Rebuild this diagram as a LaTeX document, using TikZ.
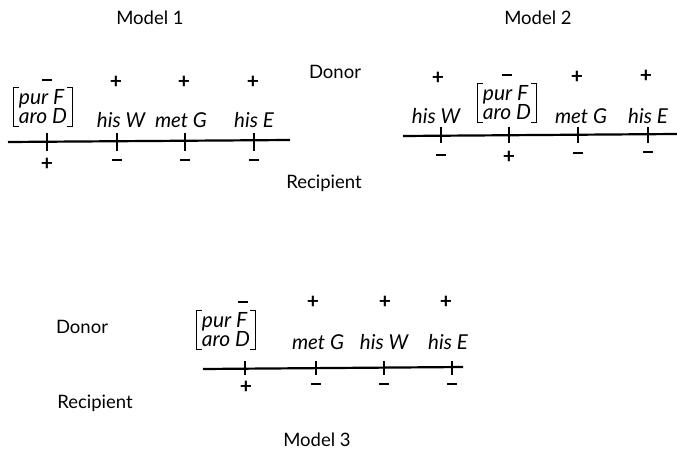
\documentclass[tikz,border=0pt]{standalone}
\usepackage{fontspec}
\setmainfont{Lato}
\newcommand\mn{\rule{10pt}{1.8pt}}
\newcommand\pl{\textbf{+}}
\begin{document}
\begin{tikzpicture}[x=1pt,y=-1pt,
  lbl/.style={font=\fontsize{18.5}{20}\selectfont, inner sep=0pt},
  gene/.style={font=\fontsize{20.5}{20}\selectfont\itshape, inner sep=0pt},
  sgn/.style={font=\fontsize{21}{22}\selectfont, inner sep=0pt},
  brk/.style={font=\fontsize{21}{19}\selectfont\itshape, inner xsep=5pt, inner ysep=2.5pt, align=left},
  bline/.style={line width=1.3pt},
  chrom/.style={line width=2.2pt},
  tick/.style={line width=2pt}]
\useasboundingbox (0,0) rectangle (677,454);
% titles
\node[lbl] (m1) at (150,18) {Model 1};
\node[lbl] (m2) at (538,18) {Model 2};
\node[lbl] (m3) at (317,440) {Model 3};
\node[lbl] (d1) at (335,72) {Donor};
\node[lbl] (r1) at (324,183) {Recipient};
\node[lbl] (d3) at (82,327) {Donor};
\node[lbl] (r3) at (95,403) {Recipient};
% ---- Model 1 ----
\coordinate (a1) at (8,142); \coordinate (b1) at (290,140);
\draw[chrom] (a1) -- (b1);
\node[sgn] (m1t1) at (47,80) {\mn};
\node[sgn] (m1b1) at (47,164) {\pl};
\foreach \x [count=\i from 2] in {116,184,253}{
  \node[sgn] (m1t\i) at (\x,82) {\pl};
}
\foreach \x [count=\i from 2] in {117,185,254}{
  \node[sgn] (m1b\i) at (\x,160) {\mn};
}
\foreach \x in {47,117,185,254}{ \draw[tick] (\x,133) -- (\x,151); }
\node[brk] (k1) at (43,107) {pur F\\aro D};
\draw[bline] ([xshift=5pt]k1.north west) -- (k1.north west) -- (k1.south west) -- ([xshift=5pt]k1.south west);
\draw[bline] ([xshift=-5pt]k1.north east) -- (k1.north east) -- (k1.south east) -- ([xshift=-5pt]k1.south east);
\node[gene] (g11) at (121,120) {his W};
\node[gene] (g12) at (181,120) {met G};
\node[gene] (g13) at (254,120) {his E};
% ---- Model 2 ----
\coordinate (a2) at (403,136); \coordinate (b2) at (677,134);
\draw[chrom] (a2) -- (b2);
\node[sgn] (m2t1) at (438,78) {\pl};
\node[sgn] (m2b1) at (441,155) {\mn};
\node[sgn] (m2t2) at (507,75) {\mn};
\node[sgn] (m2b2) at (509,157) {\pl};
\node[sgn] (m2t3) at (577,77) {\pl};
\node[sgn] (m2b3) at (578,153) {\mn};
\node[sgn] (m2t4) at (646,76) {\pl};
\node[sgn] (m2b4) at (648,152) {\mn};
\foreach \x in {441,509,578,648}{ \draw[tick] (\x,127) -- (\x,143); }
\node[brk] (k2) at (507,103) {pur F\\aro D};
\draw[bline] ([xshift=5pt]k2.north west) -- (k2.north west) -- (k2.south west) -- ([xshift=5pt]k2.south west);
\draw[bline] ([xshift=-5pt]k2.north east) -- (k2.north east) -- (k2.south east) -- ([xshift=-5pt]k2.south east);
\node[gene] (g21) at (436,116) {his W};
\node[gene] (g22) at (581,116) {met G};
\node[gene] (g23) at (648,116) {his E};
% ---- Model 3 ----
\coordinate (a3) at (203,369); \coordinate (b3) at (463,367);
\draw[chrom] (a3) -- (b3);
\node[sgn] (m3t1) at (243,302) {\mn};
\node[sgn] (m3b1) at (246,387) {\pl};
\foreach \x [count=\i from 2] in {313,385,446}{
  \node[sgn] (m3t\i) at (\x,302) {\pl};
}
\foreach \x [count=\i from 2] in {316,384,452}{
  \node[sgn] (m3b\i) at (\x,384) {\mn};
}
\foreach \x in {245,316,384,452}{ \draw[tick] (\x,361) -- (\x,375); }
\node[brk] (k3) at (226,330) {pur F\\aro D};
\draw[bline] ([xshift=5pt]k3.north west) -- (k3.north west) -- (k3.south west) -- ([xshift=5pt]k3.south west);
\draw[bline] ([xshift=-5pt]k3.north east) -- (k3.north east) -- (k3.south east) -- ([xshift=-5pt]k3.south east);
\node[gene] (g31) at (318,342) {met G};
\node[gene] (g32) at (384,342) {his W};
\node[gene] (g33) at (448,342) {his E};
\end{tikzpicture}
\end{document}
